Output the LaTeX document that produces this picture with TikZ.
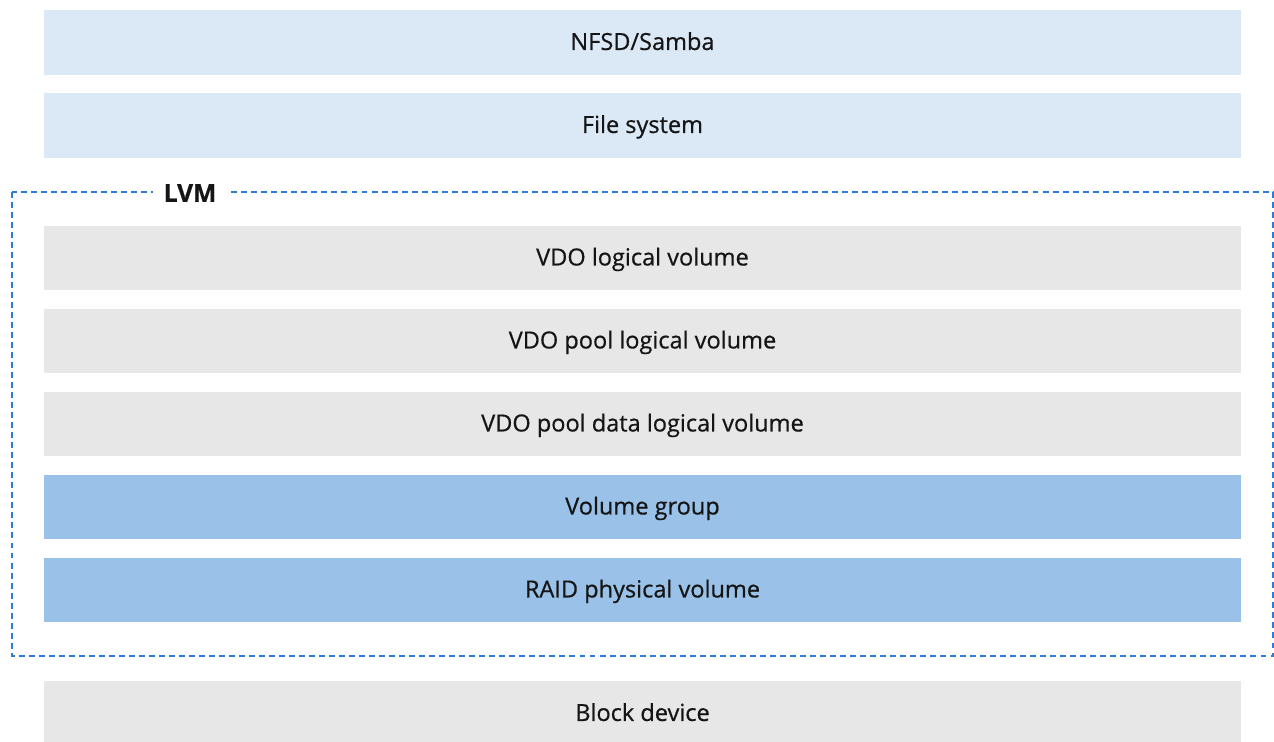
\documentclass[tikz,border=0pt]{standalone}
\usepackage{fontspec}
\setmainfont{Open Sans}[FakeBold=0.6]
\definecolor{lightblue}{HTML}{DBE8F6}
\definecolor{midblue}{HTML}{9AC2E9}
\definecolor{lightgray}{HTML}{E7E7E7}
\definecolor{dashblue}{HTML}{2F7BD9}
\definecolor{inktext}{HTML}{151515}
\tikzset{
  layer/.style={minimum width=23.94cm, minimum height=1.3cm, inner sep=0pt,
    text height=0.85em, text depth=0pt,
    text=inktext, font=\fontsize{13.4}{16}\selectfont},
}
\begin{document}
\begin{tikzpicture}[x=0.02cm,y=-0.02cm]
            \useasboundingbox (0,0) rectangle (1274,742);
            \node [layer, fill=lightblue] (nfsd) at (642.5,42.5) {NFSD/Samba};
            \node [layer, fill=lightblue] (fs) at (642.5,125.5) {File system};
            \draw [dashblue, line width=0.8pt, dash pattern=on 3.4pt off 2.3pt] (12,192) rectangle (1273,656);
            \node [fill=white, inner xsep=6pt, inner ysep=1pt, text=inktext, font=\bfseries\fontsize{14}{16}\selectfont] (lvm) at (190,193) {LVM};
            \node [layer, fill=lightgray] (vdolv) at (642.5,258) {VDO logical volume};
            \node [layer, fill=lightgray] (pool) at (642.5,341) {VDO pool logical volume};
            \node [layer, fill=lightgray] (pooldata) at (642.5,424) {VDO pool data logical volume};
            \node [layer, fill=midblue] (vg) at (642.5,507) {Volume group};
            \node [layer, fill=midblue] (raid) at (642.5,590) {RAID physical volume};
            \node [layer, fill=lightgray] (block) at (642.5,713.5) {Block device};%dernier bloc, coupe en bas
\end{tikzpicture}
\end{document}
